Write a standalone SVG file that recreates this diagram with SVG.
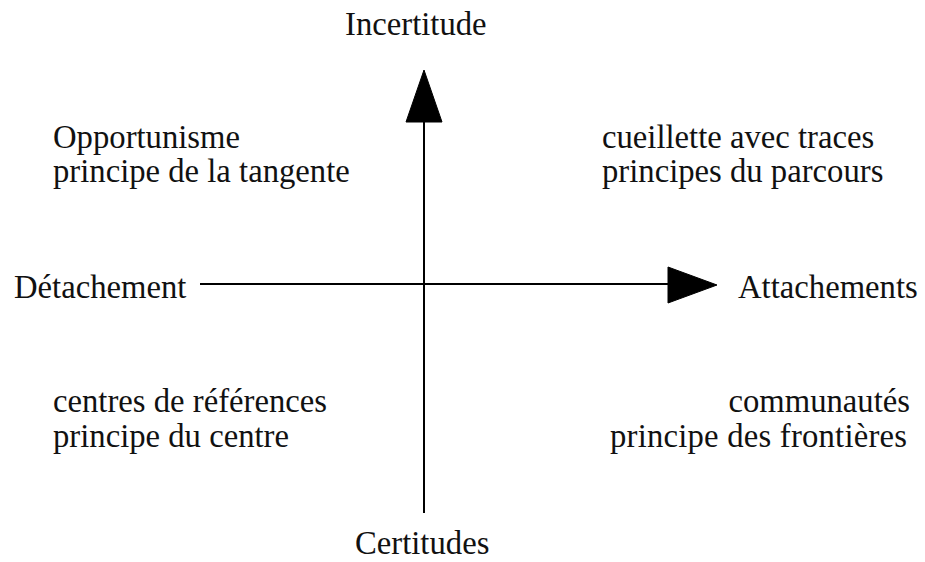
<svg xmlns="http://www.w3.org/2000/svg" width="925" height="562" viewBox="0 0 925 562">
<style>
text{font-family:"Liberation Serif","Times New Roman",serif;font-size:32.7px;fill:#111}
.ax{stroke:#000;stroke-width:2;fill:none}
.head{fill:#000;stroke:#000;stroke-width:1}
</style>
<rect width="925" height="562" fill="#fff"/>
<g id="connectors">
<line class="ax" x1="424" y1="513" x2="424" y2="120"/>
<polygon class="head" points="424,70 442,122 406,122"/>
<line class="ax" x1="200" y1="284" x2="670" y2="284"/>
<polygon class="head" points="717,285 668,267 668,303"/>
</g>
<g id="incertitude"><text x="345" y="35">Incertitude</text></g>
<g id="certitudes"><text x="355" y="554">Certitudes</text></g>
<g id="detachement"><text x="14" y="298">Détachement</text></g>
<g id="attachements"><text x="738" y="298">Attachements</text></g>
<g id="opportunisme"><text x="53" y="148">Opportunisme</text><text x="53" y="182">principe de la tangente</text></g>
<g id="cueillette"><text x="602" y="148">cueillette avec traces</text><text x="602" y="182">principes du parcours</text></g>
<g id="centres"><text x="53" y="412">centres de références</text><text x="53" y="447">principe du centre</text></g>
<g id="communautes"><text x="910" y="412" text-anchor="end">communautés</text><text x="907" y="447" text-anchor="end" textLength="297" lengthAdjust="spacing">principe des frontières</text></g>
</svg>
